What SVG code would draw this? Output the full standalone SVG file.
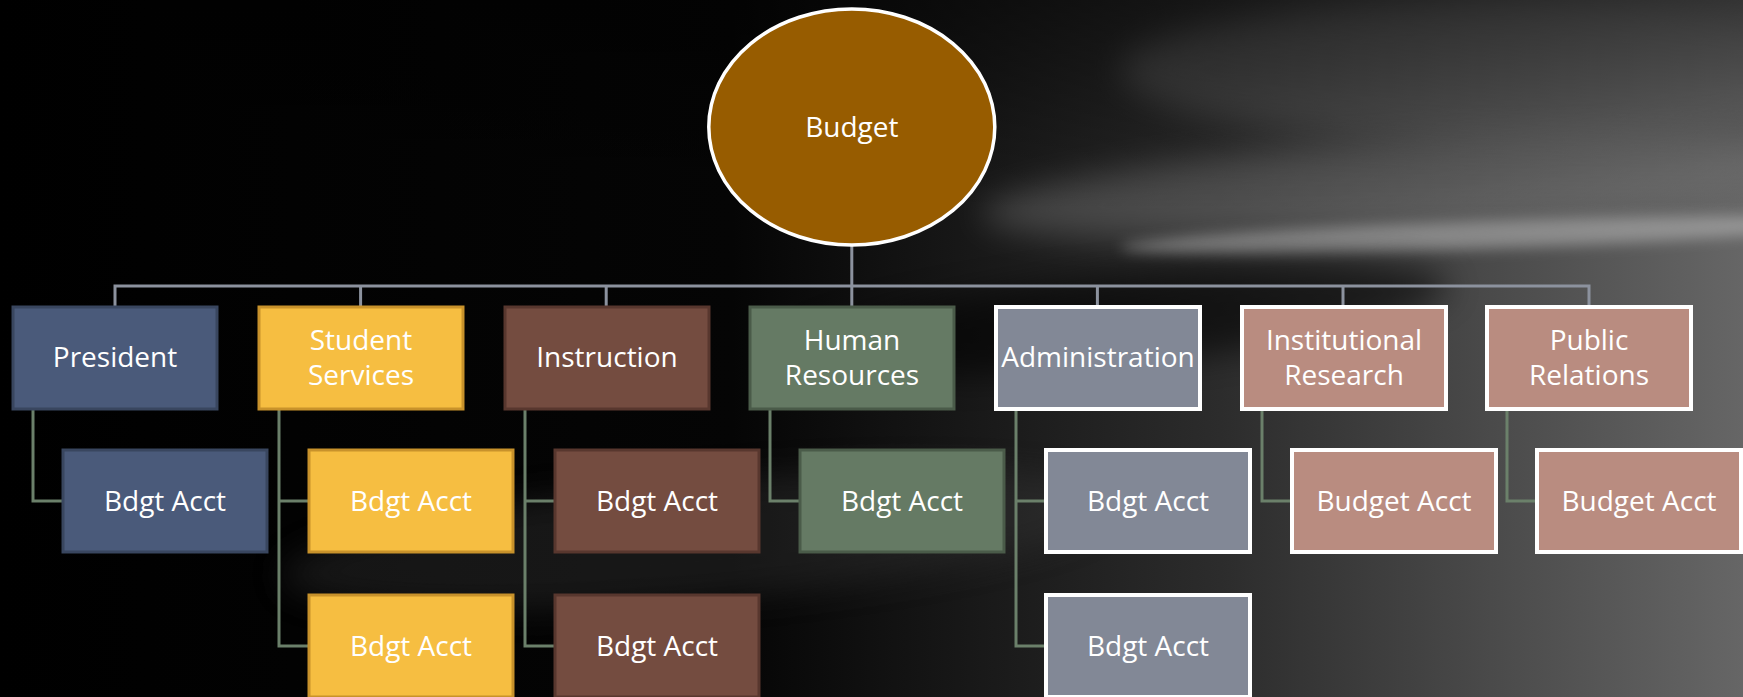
<svg xmlns="http://www.w3.org/2000/svg" width="1743" height="697" viewBox="0 0 1743 697">
<defs>
<linearGradient id="bgx" x1="0" y1="0" x2="1" y2="0">
<stop offset="0" stop-color="#000"/>
<stop offset="0.42" stop-color="#050505"/>
<stop offset="0.7" stop-color="#2c2c2c"/>
<stop offset="1" stop-color="#666"/>
</linearGradient>
<linearGradient id="bgy" x1="0" y1="0" x2="0" y2="1">
<stop offset="0" stop-color="#000" stop-opacity="0.5"/>
<stop offset="0.3" stop-color="#000" stop-opacity="0"/>
<stop offset="1" stop-color="#000" stop-opacity="0"/>
</linearGradient>
<filter id="blur" x="-30%" y="-100%" width="160%" height="300%"><feGaussianBlur stdDeviation="16"/></filter>
<filter id="blur2" x="-30%" y="-100%" width="160%" height="300%"><feGaussianBlur stdDeviation="7"/></filter>
<style>
.t{font-family:"Open Sans","Noto Sans",sans-serif;font-size:28px;fill:#fff;text-anchor:middle;dominant-baseline:central}
.bus{fill:none;stroke:#8c929e;stroke-width:3}
.sub{fill:none;stroke:#6b806a;stroke-width:3}
.pres{fill:#4a5a7a;stroke:#39465f;stroke-width:3}
.stud{fill:#f6be41;stroke:#c8922b;stroke-width:3}
.inst{fill:#744c40;stroke:#58372e;stroke-width:3}
.hr{fill:#657a64;stroke:#4a5b49;stroke-width:3}
.adm{fill:#828896;stroke:#fff;stroke-width:4}
.ir{fill:#b98c80;stroke:#fff;stroke-width:4}
</style>
</defs>
<g id="background">
<rect width="1743" height="697" fill="url(#bgx)"/>
<ellipse cx="1500" cy="70" rx="380" ry="70" fill="#8a8a8a" opacity="0.3" filter="url(#blur)"/>
<ellipse cx="1400" cy="185" rx="420" ry="45" fill="#8c8c8c" opacity="0.35" filter="url(#blur)" transform="rotate(-4 1400 185)"/>
<ellipse cx="1480" cy="235" rx="360" ry="14" fill="#d0d0d0" opacity="0.45" filter="url(#blur2)" transform="rotate(-2 1480 235)"/>
<ellipse cx="1120" cy="320" rx="330" ry="45" fill="#000" opacity="0.55" filter="url(#blur)" transform="rotate(-6 1120 320)"/>
<ellipse cx="700" cy="540" rx="420" ry="60" fill="#3a3a3a" opacity="0.35" filter="url(#blur)" transform="rotate(-5 700 540)"/>
<rect width="1743" height="697" fill="url(#bgy)"/>
</g>
<g id="connectors">
<path class="bus" d="M851.8 245 V286 M115 307 V286 H1589 V307 M360.6 286 V307 M606.2 286 V307 M851.8 286 V307 M1097.4 286 V307 M1343 286 V307"/>
<path class="sub" d="M33 409 V501 H63"/>
<path class="sub" d="M279 409 V646 H309 M279 501 H309"/>
<path class="sub" d="M525 409 V646 H555 M525 501 H555"/>
<path class="sub" d="M770 409 V501 H800"/>
<path class="sub" d="M1016 409 V646 H1046 M1016 501 H1046"/>
<path class="sub" d="M1262 409 V501 H1292"/>
<path class="sub" d="M1507 409 V501 H1537"/>
</g>
<g id="budget">
<ellipse cx="851.8" cy="127" rx="143" ry="118" fill="#975c00" stroke="#fff" stroke-width="3.5"/>
<text class="t" x="851.8" y="126">Budget</text>
</g>
<g id="president">
<rect class="pres" x="13" y="307" width="204" height="102"/>
<text class="t" x="115" y="356">President</text>
</g>
<g id="president-acct">
<rect class="pres" x="63" y="450" width="204" height="102"/>
<text class="t" x="165" y="500">Bdgt Acct</text>
</g>
<g id="student-services">
<rect class="stud" x="259" y="307" width="204" height="102"/>
<text class="t" x="361" y="339">Student</text>
<text class="t" x="361" y="374">Services</text>
</g>
<g id="student-acct-1">
<rect class="stud" x="309" y="450" width="204" height="102"/>
<text class="t" x="411" y="500">Bdgt Acct</text>
</g>
<g id="student-acct-2">
<rect class="stud" x="309" y="595" width="204" height="102"/>
<text class="t" x="411" y="645">Bdgt Acct</text>
</g>
<g id="instruction">
<rect class="inst" x="505" y="307" width="204" height="102"/>
<text class="t" x="607" y="356">Instruction</text>
</g>
<g id="instruction-acct-1">
<rect class="inst" x="555" y="450" width="204" height="102"/>
<text class="t" x="657" y="500">Bdgt Acct</text>
</g>
<g id="instruction-acct-2">
<rect class="inst" x="555" y="595" width="204" height="102"/>
<text class="t" x="657" y="645">Bdgt Acct</text>
</g>
<g id="human-resources">
<rect class="hr" x="750" y="307" width="204" height="102"/>
<text class="t" x="852" y="339">Human</text>
<text class="t" x="852" y="374">Resources</text>
</g>
<g id="hr-acct">
<rect class="hr" x="800" y="450" width="204" height="102"/>
<text class="t" x="902" y="500">Bdgt Acct</text>
</g>
<g id="administration">
<rect class="adm" x="996" y="307" width="204" height="102"/>
<text class="t" x="1098" y="356">Administration</text>
</g>
<g id="admin-acct-1">
<rect class="adm" x="1046" y="450" width="204" height="102"/>
<text class="t" x="1148" y="500">Bdgt Acct</text>
</g>
<g id="admin-acct-2">
<rect class="adm" x="1046" y="595" width="204" height="102"/>
<text class="t" x="1148" y="645">Bdgt Acct</text>
</g>
<g id="institutional-research">
<rect class="ir" x="1242" y="307" width="204" height="102"/>
<text class="t" x="1344" y="339">Institutional</text>
<text class="t" x="1344" y="374">Research</text>
</g>
<g id="ir-acct">
<rect class="ir" x="1292" y="450" width="204" height="102"/>
<text class="t" x="1394" y="500">Budget Acct</text>
</g>
<g id="public-relations">
<rect class="ir" x="1487" y="307" width="204" height="102"/>
<text class="t" x="1589" y="339">Public</text>
<text class="t" x="1589" y="374">Relations</text>
</g>
<g id="pr-acct">
<rect class="ir" x="1537" y="450" width="204" height="102"/>
<text class="t" x="1639" y="500">Budget Acct</text>
</g>
</svg>
